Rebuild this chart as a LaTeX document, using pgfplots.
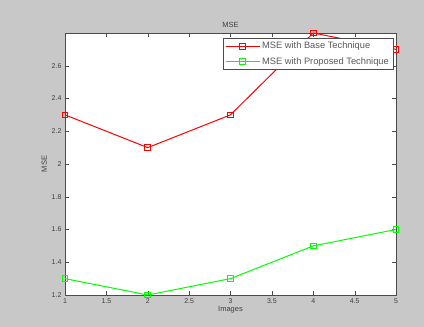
\documentclass[border=0pt]{standalone}
\usepackage{pgfplots}
\pgfplotsset{compat=1.18}
\usepackage{fontspec}
\setmainfont{Liberation Sans}
\begin{document}
\begin{tikzpicture}[x=1pt,y=1pt]
\fill[fill={rgb,255:red,200;green,200;blue,200}] (0,0) rectangle (424,327);
\begin{axis}[
  at={(65pt,32pt)}, anchor=south west,
  scale only axis, width=331pt, height=262pt,
  xmin=1, xmax=5, ymin=1.2, ymax=2.8,
  xtick={1,1.5,...,5}, ytick={1.2,1.4,...,2.6},
  xticklabels={1,1.5,2,2.5,3,3.5,4,4.5,5},
  yticklabels={1.2,1.4,1.6,1.8,2,2.2,2.4,2.6},
  axis background/.style={fill=white},
  axis line style={draw=black!70},
  tick style={draw=black!70},
  tick align=inside, xtick pos=both, ytick pos=both,
  major tick length=4pt,
  tick label style={font=\fontsize{7}{8}\selectfont, text=black!75},
  /pgf/number format/assume math mode=true,
  title={MSE}, title style={font=\fontsize{7.5}{8}\selectfont, text=black!75, yshift=-4pt},
  xlabel={Images}, ylabel={MSE},
  label style={font=\fontsize{7.5}{8}\selectfont, text=black!75},
  xlabel style={yshift=4pt}, ylabel style={yshift=-2pt},
  legend style={at={(rel axis cs:0.991,0.981)}, anchor=north east,
    font=\fontsize{9.3}{10}\selectfont, draw=black!70, inner sep=2pt,
    row sep=3pt, text=black!65},
  legend image code/.code={\draw[mark repeat=2,mark phase=2] plot coordinates {(0pt,0pt) (17pt,0pt) (34pt,0pt)};},
  legend cell align=left,
  clip=false,
]
\addplot[red, line width=1pt, mark=square, mark size=2.8pt, mark options={solid, fill=none}]
  coordinates {(1,2.3) (2,2.1) (3,2.3) (4,2.8) (5,2.7)};
\addlegendentry{MSE with Base Technique}
\addplot[green, line width=1pt, mark=square, mark size=2.8pt, mark options={solid, fill=none}]
  coordinates {(1,1.3) (2,1.2) (3,1.3) (4,1.5) (5,1.6)};
\addlegendentry{MSE with Proposed Technique}
\end{axis}
\end{tikzpicture}
\end{document}
